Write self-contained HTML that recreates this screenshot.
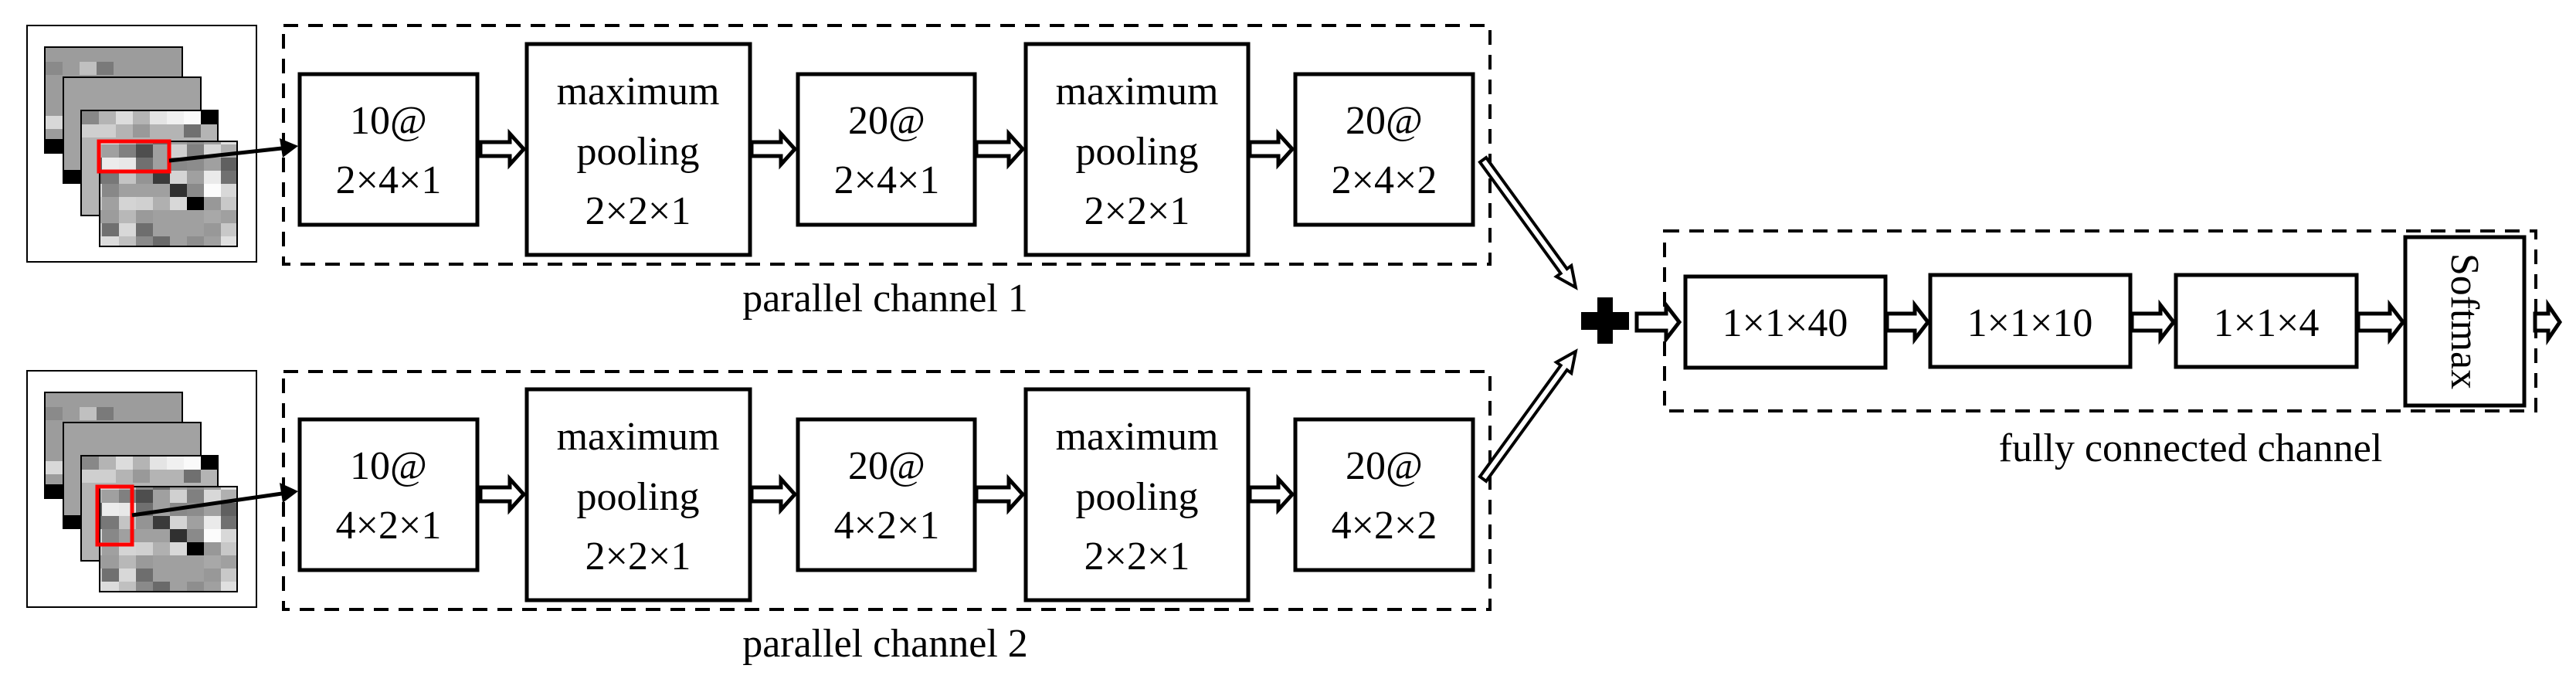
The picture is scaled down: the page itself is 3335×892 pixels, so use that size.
<!DOCTYPE html>
<html><head><meta charset="utf-8"><style>
html,body{margin:0;padding:0;background:#fff;}
svg{display:block;}
text{font-family:"Liberation Serif",serif;fill:#000;}
</style></head><body>
<svg width="3335" height="892" viewBox="0 0 3335 892" xmlns="http://www.w3.org/2000/svg">
<defs>
<pattern id="px" patternUnits="userSpaceOnUse" width="176" height="136">
<rect width="176" height="136" fill="#a0a0a0"/>
<g>
<rect x="0" y="0" width="22" height="17" fill="#9a9a9a"/><rect x="88" y="0" width="22" height="17" fill="#a8a8a8"/><rect x="132" y="0" width="22" height="17" fill="#9c9c9c"/><rect x="154" y="0" width="22" height="17" fill="#b8b8b8"/>
<rect x="0" y="17" width="22" height="17" fill="#6e6e6e"/><rect x="88" y="17" width="22" height="17" fill="#989898"/><rect x="110" y="17" width="22" height="17" fill="#c8c8c8"/><rect x="132" y="17" width="22" height="17" fill="#707070"/><rect x="154" y="17" width="22" height="17" fill="#d8d8d8"/>
<rect x="0" y="34" width="22" height="17" fill="#8a8a8a"/><rect x="22" y="34" width="22" height="17" fill="#6a6a6a"/><rect x="66" y="34" width="22" height="17" fill="#8e8e8e"/><rect x="110" y="34" width="22" height="17" fill="#e0e0e0"/><rect x="132" y="34" width="22" height="17" fill="#dcdcdc"/><rect x="154" y="34" width="22" height="17" fill="#c0c0c0"/>
<rect x="0" y="51" width="22" height="17" fill="#4e4e4e"/><rect x="44" y="51" width="22" height="17" fill="#d0d0d0"/><rect x="66" y="51" width="22" height="17" fill="#808080"/><rect x="88" y="51" width="22" height="17" fill="#d8d8d8"/><rect x="110" y="51" width="22" height="17" fill="#b0b0b0"/><rect x="154" y="51" width="22" height="17" fill="#808080"/>
<rect x="0" y="68" width="22" height="17" fill="#707070"/><rect x="44" y="68" width="22" height="17" fill="#888888"/><rect x="66" y="68" width="22" height="17" fill="#8c8c8c"/><rect x="110" y="68" width="22" height="17" fill="#606060"/><rect x="132" y="68" width="22" height="17" fill="#ececec"/><rect x="154" y="68" width="22" height="17" fill="#e8e8e8"/>
<rect x="0" y="85" width="22" height="17" fill="#949494"/><rect x="22" y="85" width="22" height="17" fill="#3a3a3a"/><rect x="44" y="85" width="22" height="17" fill="#d4d4d4"/><rect x="88" y="85" width="22" height="17" fill="#eaeaea"/><rect x="110" y="85" width="22" height="17" fill="#707070"/><rect x="132" y="85" width="22" height="17" fill="#787878"/><rect x="154" y="85" width="22" height="17" fill="#c4c4c4"/>
<rect x="44" y="102" width="22" height="17" fill="#303030"/><rect x="66" y="102" width="22" height="17" fill="#8a8a8a"/><rect x="88" y="102" width="22" height="17" fill="#fcfcfc"/><rect x="110" y="102" width="22" height="17" fill="#d8d8d8"/><rect x="132" y="102" width="22" height="17" fill="#888888"/>
<rect x="0" y="119" width="22" height="17" fill="#d0d0d0"/><rect x="22" y="119" width="22" height="17" fill="#b0b0b0"/><rect x="44" y="119" width="22" height="17" fill="#d8d8d8"/><rect x="66" y="119" width="22" height="17" fill="#000000"/><rect x="88" y="119" width="22" height="17" fill="#989898"/><rect x="110" y="119" width="22" height="17" fill="#c8c8c8"/><rect x="154" y="119" width="22" height="17" fill="#d4d4d4"/>
</g>
</pattern>
<g id="stack">
  <!-- img1 -->
  <rect x="58" y="61" width="178" height="137" fill="#9c9c9c" stroke="#000" stroke-width="2"/>
  <rect x="59" y="80" width="22" height="17" fill="#8a8a8a"/><rect x="103" y="80" width="22" height="17" fill="#c0c0c0"/><rect x="125" y="80" width="22" height="17" fill="#7a7a7a"/><rect x="59" y="150" width="22" height="17" fill="#d8d8d8"/>
  <rect x="58" y="180" width="24" height="18" fill="#000"/>
  <!-- img2 -->
  <rect x="82" y="100" width="178" height="137" fill="#a2a2a2" stroke="#000" stroke-width="2"/>
  <rect x="82" y="220" width="23" height="18" fill="#000"/>
  <!-- img3 -->
  <rect x="105" y="143" width="177" height="136" fill="#b4b4b4" stroke="#000" stroke-width="2"/>
  <rect x="106" y="144" width="22" height="17" fill="#888"/><rect x="150" y="144" width="22" height="17" fill="#dcdcdc"/><rect x="194" y="144" width="22" height="17" fill="#e4e4e4"/><rect x="216" y="144" width="22" height="17" fill="#f0f0f0"/><rect x="238" y="144" width="22" height="17" fill="#fafafa"/><rect x="260" y="144" width="22" height="17" fill="#000"/>
  <rect x="106" y="161" width="44" height="17" fill="#cfcfcf"/><rect x="172" y="161" width="22" height="17" fill="#999"/><rect x="238" y="161" width="22" height="17" fill="#707070"/>
  <!-- img4 -->
  <rect x="129" y="183" width="178" height="136" fill="url(#px)" stroke="#000" stroke-width="2"/>
</g>
</defs>

<!-- ===== Channel 1 ===== -->
<g>
<rect x="35" y="33" width="297" height="306" fill="#fff" stroke="#000" stroke-width="2"/>
<g transform="translate(0,0)"><use href="#stack"/></g>
<rect x="128" y="183" width="91" height="39" fill="none" stroke="#f00" stroke-width="5"/>
<line x1="219" y1="208" x2="365" y2="192" stroke="#000" stroke-width="5"/>
<polygon points="386,189 362,179 366,204" fill="#000"/>
<rect x="367" y="33" width="1562" height="309" fill="none" stroke="#000" stroke-width="4" stroke-dasharray="19,13"/>
<rect x="388" y="96" width="230" height="195" fill="#fff" stroke="#000" stroke-width="5"/>
<rect x="682" y="57" width="289" height="273" fill="#fff" stroke="#000" stroke-width="5"/>
<rect x="1033" y="96" width="229" height="195" fill="#fff" stroke="#000" stroke-width="5"/>
<rect x="1328" y="57" width="288" height="273" fill="#fff" stroke="#000" stroke-width="5"/>
<rect x="1677" y="96" width="230" height="195" fill="#fff" stroke="#000" stroke-width="5"/>
<g fill="#fff" stroke="#000" stroke-width="5" stroke-linejoin="miter">
<polygon points="622,184 660,184 660,173 678,193 660,213 660,202 622,202"/>
<polygon points="973,184 1011,184 1011,173 1029,193 1011,213 1011,202 973,202"/>
<polygon points="1264,184 1306,184 1306,173 1324,193 1306,213 1306,202 1264,202"/>
<polygon points="1618,184 1655,184 1655,173 1673,193 1655,213 1655,202 1618,202"/>
</g>
<g font-size="52" text-anchor="middle">
<text x="503" y="173">10@</text><text x="503" y="250">2×4×1</text>
<text x="826" y="135">maximum</text><text x="826" y="213">pooling</text><text x="826" y="290">2×2×1</text>
<text x="1148" y="173">20@</text><text x="1148" y="250">2×4×1</text>
<text x="1472" y="135">maximum</text><text x="1472" y="213">pooling</text><text x="1472" y="290">2×2×1</text>
<text x="1792" y="173">20@</text><text x="1792" y="250">2×4×2</text>
<text x="1146" y="403">parallel channel 1</text>
</g>
</g>

<!-- ===== Channel 2 ===== -->
<g transform="translate(0,447)">
<rect x="35" y="33" width="297" height="306" fill="#fff" stroke="#000" stroke-width="2"/>
<use href="#stack"/>
<rect x="126" y="183" width="45" height="75" fill="none" stroke="#f00" stroke-width="5"/>
<line x1="171" y1="220" x2="365" y2="192" stroke="#000" stroke-width="5"/>
<polygon points="386,189 362,178 366,204" fill="#000"/>
<rect x="367" y="34" width="1562" height="308" fill="none" stroke="#000" stroke-width="4" stroke-dasharray="19,13"/>
<rect x="388" y="96" width="230" height="195" fill="#fff" stroke="#000" stroke-width="5"/>
<rect x="682" y="57" width="289" height="273" fill="#fff" stroke="#000" stroke-width="5"/>
<rect x="1033" y="96" width="229" height="195" fill="#fff" stroke="#000" stroke-width="5"/>
<rect x="1328" y="57" width="288" height="273" fill="#fff" stroke="#000" stroke-width="5"/>
<rect x="1677" y="96" width="230" height="195" fill="#fff" stroke="#000" stroke-width="5"/>
<g fill="#fff" stroke="#000" stroke-width="5">
<polygon points="622,184 660,184 660,173 678,193 660,213 660,202 622,202"/>
<polygon points="973,184 1011,184 1011,173 1029,193 1011,213 1011,202 973,202"/>
<polygon points="1264,184 1306,184 1306,173 1324,193 1306,213 1306,202 1264,202"/>
<polygon points="1618,184 1655,184 1655,173 1673,193 1655,213 1655,202 1618,202"/>
</g>
<g font-size="52" text-anchor="middle">
<text x="503" y="173">10@</text><text x="503" y="250">4×2×1</text>
<text x="826" y="135">maximum</text><text x="826" y="213">pooling</text><text x="826" y="290">2×2×1</text>
<text x="1148" y="173">20@</text><text x="1148" y="250">4×2×1</text>
<text x="1472" y="135">maximum</text><text x="1472" y="213">pooling</text><text x="1472" y="290">2×2×1</text>
<text x="1792" y="173">20@</text><text x="1792" y="250">4×2×2</text>
<text x="1146" y="403">parallel channel 2</text>
</g>
</g>

<!-- diagonal hollow arrows -->
<g fill="#fff" stroke="#000" stroke-width="4" stroke-linejoin="miter">
<g transform="translate(1920,207) rotate(54)">
<polygon points="0,-5 178,-5 178,-12 204,0 178,12 178,5 0,5"/>
</g>
<g transform="translate(1920,620) rotate(-54)">
<polygon points="0,-5 178,-5 178,-12 204,0 178,12 178,5 0,5"/>
</g>
</g>

<!-- plus -->
<rect x="2068" y="385" width="20" height="60" fill="#000"/>
<rect x="2047" y="404" width="62" height="23" fill="#000"/>

<!-- FC channel -->
<rect x="2155" y="299" width="1128" height="233" fill="none" stroke="#000" stroke-width="4" stroke-dasharray="19,13"/>
<rect x="2182" y="358" width="259" height="118" fill="#fff" stroke="#000" stroke-width="5"/>
<rect x="2499" y="356" width="259" height="119" fill="#fff" stroke="#000" stroke-width="5"/>
<rect x="2817" y="356" width="234" height="119" fill="#fff" stroke="#000" stroke-width="5"/>
<rect x="3114" y="307" width="154" height="218" fill="#fff" stroke="#000" stroke-width="5"/>
<g fill="#fff" stroke="#000" stroke-width="5">
<polygon points="2119,406 2157,406 2157,395 2174,417 2157,439 2157,428 2119,428"/>
<polygon points="2443,406 2479,406 2479,395 2496,417 2479,439 2479,428 2443,428"/>
<polygon points="2760,406 2797,406 2797,395 2814,417 2797,439 2797,428 2760,428"/>
<polygon points="3053,406 3094,406 3094,395 3111,417 3094,439 3094,428 3053,428"/>
<polygon points="3282,406 3299,406 3299,395 3314,417 3299,439 3299,428 3282,428"/>
</g>
<g font-size="52" text-anchor="middle">
<text x="2311" y="435">1×1×40</text>
<text x="2628" y="435">1×1×10</text>
<text x="2934" y="435">1×1×4</text>
<text x="3191" y="416" transform="rotate(90 3191 416)" dy="17">Softmax</text>
<text x="2836" y="597">fully connected channel</text>
</g>
</svg>
</body></html>
